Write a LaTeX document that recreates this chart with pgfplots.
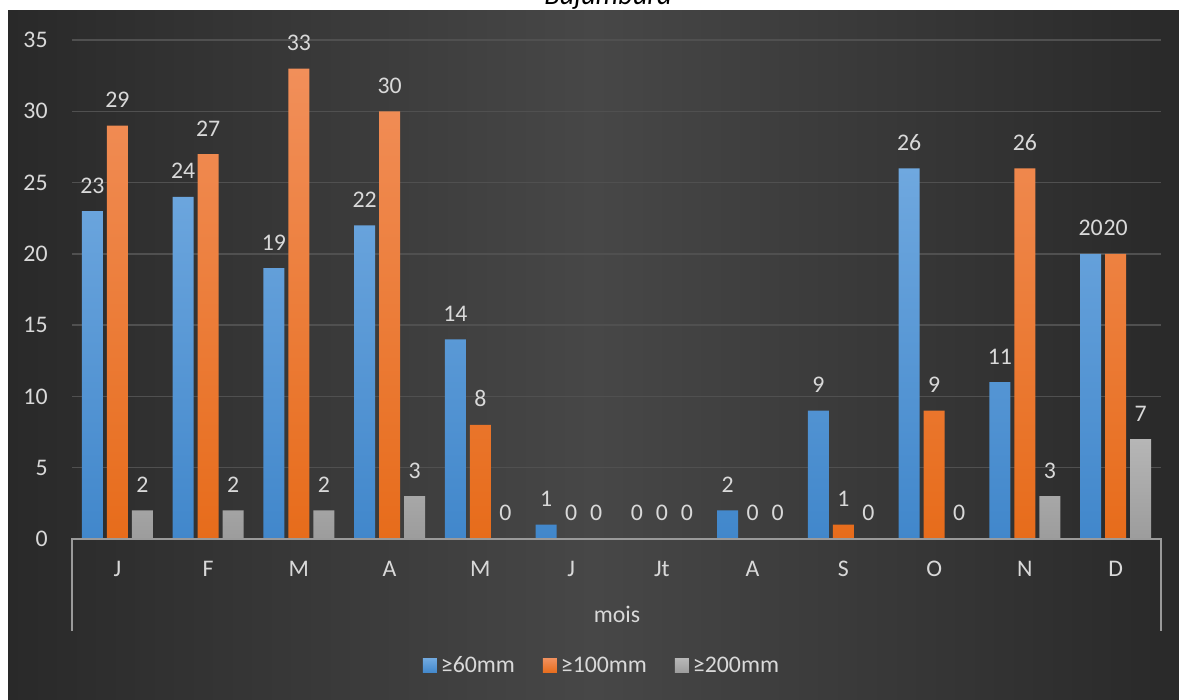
\documentclass[border=0pt]{standalone}
\usepackage{pgfplots}
\pgfplotsset{compat=1.18}
\usepackage{fontspec}
\setmainfont{Carlito}
\definecolor{bgin}{HTML}{474747}
\definecolor{bgout}{HTML}{292929}
\definecolor{blueTop}{HTML}{6FA8DF}
\definecolor{blueBot}{HTML}{4187CB}
\definecolor{orTop}{HTML}{F18F5A}
\definecolor{orBot}{HTML}{E76C1B}
\definecolor{grTop}{HTML}{B6B6B6}
\definecolor{grBot}{HTML}{9C9C9C}
\definecolor{labelcol}{HTML}{D9D9D9}
\definecolor{gridcol}{HTML}{505050}
\definecolor{axiscol}{HTML}{9A9A9A}
\newcommand{\lblfont}{\fontsize{11.9}{14}\selectfont}
\begin{document}
\begin{tikzpicture}
\useasboundingbox (0,0) rectangle (589.5pt,350pt);
\clip (0,0) rectangle (589.5pt,350pt);
\fill[white] (0,0) rectangle (589.5pt,350pt);
\shade[left color=bgout, right color=bgout, middle color=bgin] (4pt,0) rectangle (589.5pt,344.5pt);
\node[anchor=base, font=\fontsize{14.2}{16}\selectfont\itshape, text=black, inner sep=0pt] at (304pt,347.5pt) {Bujumbura};
\begin{axis}[
  at={(36pt,80.5pt)}, anchor=south west,
  scale only axis, width=544.5pt, height=249.5pt,
  xmin=-0.5, xmax=11.5, ymin=0, ymax=35,
  enlargelimits=false,
  ybar=2pt, bar width=10.5pt,
  xtick={0,...,11},
  xticklabels={J,F,M,A,M,J,Jt,A,S,O,N,D},
  ytick={0,5,...,35},
  /pgf/number format/assume math mode=true,
  axis line style={draw=none},
  tick style={draw=none},
  major tick length=0pt,
  ymajorgrids, grid style={gridcol, line width=0.7pt},
  ticklabel style={font=\lblfont, text=labelcol},
  yticklabel style={anchor=east, inner sep=0pt, xshift=-12pt},
  xticklabel style={anchor=base, inner sep=0pt, yshift=-19pt},
  nodes near coords,
  every node near coord/.append style={font=\lblfont, text=labelcol, anchor=base, inner sep=0pt, yshift=9pt},
  legend columns=3,
  legend style={at={(0.4876,-0.2545)}, anchor=center, draw=none, fill=none, text=labelcol, font=\lblfont,
    /tikz/every even column/.append style={column sep=12pt}},
]
\addplot[draw=none, top color=blueTop, bottom color=blueBot,
  legend image code/.code={\path[top color=blueTop, bottom color=blueBot] (0pt,-3.5pt) rectangle (7pt,3.5pt);}]
  coordinates {(0,23) (1,24) (2,19) (3,22) (4,14) (5,1) (6,0) (7,2) (8,9) (9,26) (10,11) (11,20)};
\addlegendentry{≥60mm}
\addplot[draw=none, top color=orTop, bottom color=orBot,
  legend image code/.code={\path[top color=orTop, bottom color=orBot] (0pt,-3.5pt) rectangle (7pt,3.5pt);}]
  coordinates {(0,29) (1,27) (2,33) (3,30) (4,8) (5,0) (6,0) (7,0) (8,1) (9,9) (10,26) (11,20)};
\addlegendentry{≥100mm}
\addplot[draw=none, top color=grTop, bottom color=grBot,
  legend image code/.code={\path[top color=grTop, bottom color=grBot] (0pt,-3.5pt) rectangle (7pt,3.5pt);}]
  coordinates {(0,2) (1,2) (2,2) (3,3) (4,0) (5,0) (6,0) (7,0) (8,0) (9,0) (10,3) (11,7)};
\addlegendentry{≥200mm}
\end{axis}
\draw[axiscol, line width=0.8pt] (36pt,34.5pt) -- (36pt,80.5pt) -- (580.5pt,80.5pt) -- (580.5pt,34.5pt);
\node[anchor=base, font=\lblfont, text=labelcol, inner sep=0pt] at (308.5pt,38.5pt) {mois};
\end{tikzpicture}
\end{document}
